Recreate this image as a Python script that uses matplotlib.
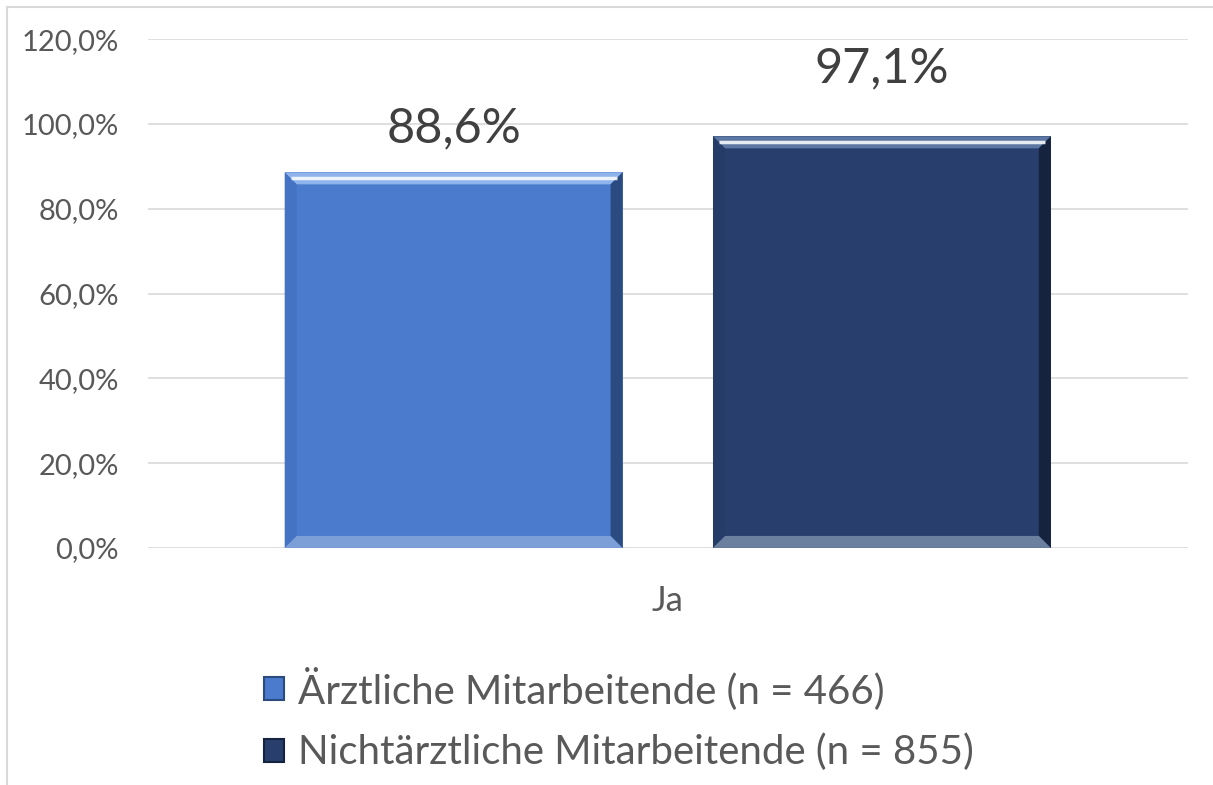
import matplotlib
matplotlib.use('Agg')
import matplotlib.pyplot as plt
from matplotlib.patches import Polygon, Patch
from matplotlib.lines import Line2D

# data
categories = ['Ja']
series_names = ['Ärztliche Mitarbeitende (n = 466)', 'Nichtärztliche Mitarbeitende (n = 855)']
series_values = [88.6, 97.1]
value_labels = ['88,6%', '97,1%']
y_ticks = [0, 20, 40, 60, 80, 100, 120]
y_tick_labels = ['0,0%', '20,0%', '40,0%', '60,0%', '80,0%', '100,0%', '120,0%']

face_colors = ['#4a7bcd', '#283f6e']
top_colors = ['#8fb4ec', '#5d77a3']
left_colors = ['#4373c2', '#253b68']
right_colors = ['#2b4a80', '#16233f']
bottom_colors = ['#7c9fd8', '#6b7f9f']
label_lift = [10.4, 16.1]  # label placement above bar top, as in the original

plt.rcParams['font.family'] = ['Lato', 'DejaVu Sans']

fig = plt.figure(figsize=(12.13, 7.85), dpi=100)
ax = fig.add_axes([0.122, 0.302, 0.857, 0.648])

width = 0.325
offsets = [-0.206, 0.206]

ax.set_xlim(-0.5, 0.5)
ax.set_ylim(0, 120)

# pixel to data conversion for bevel size
ax_w_px = 0.857 * 1213
ax_h_px = 0.648 * 785
bx = 12 / ax_w_px * 1.0
by = 12 / ax_h_px * 120.0

for i, v in enumerate(series_values):
    x0 = offsets[i] - width / 2
    x1 = offsets[i] + width / 2
    ax.bar(offsets[i], v, width=width, color=face_colors[i], zorder=2)
    # bevel facets
    ax.add_patch(Polygon([(x0, v), (x1, v), (x1 - bx, v - by), (x0 + bx, v - by)],
                         closed=True, color=top_colors[i], lw=0, zorder=3))
    ax.add_patch(Polygon([(x0, 0), (x0, v), (x0 + bx, v - by), (x0 + bx, by)],
                         closed=True, color=left_colors[i], lw=0, zorder=3))
    ax.add_patch(Polygon([(x1, 0), (x1, v), (x1 - bx, v - by), (x1 - bx, by)],
                         closed=True, color=right_colors[i], lw=0, zorder=3))
    ax.add_patch(Polygon([(x0, 0), (x1, 0), (x1 - bx, by), (x0 + bx, by)],
                         closed=True, color=bottom_colors[i], lw=0, zorder=3))
    # highlight line near top
    ax.plot([x0 + bx * 0.5, x1 - bx * 0.5], [v - by * 0.45, v - by * 0.45],
            color='white', lw=2.5, alpha=0.85, zorder=4, solid_capstyle='butt')
    ax.text(offsets[i], v + label_lift[i], value_labels[i], ha='center', va='center',
            fontsize=35, color='#404040', zorder=5)

ax.set_yticks(y_ticks)
ax.set_yticklabels(y_tick_labels)
ax.set_xticks([0])
ax.set_xticklabels(categories)
ax.tick_params(axis='y', length=0, pad=21, labelsize=21, labelcolor='#595959')
ax.tick_params(axis='x', length=0, pad=27, labelsize=25, labelcolor='#595959')
ax.grid(axis='y', color='#d9d9d9', lw=1.2, zorder=0)
ax.set_axisbelow(True)
for s in ax.spines.values():
    s.set_visible(False)

handles = [Patch(facecolor=face_colors[i], edgecolor=right_colors[i], lw=1.5) for i in range(2)]
fig.legend(handles, series_names, loc='center', bbox_to_anchor=(0.51, 0.084),
           frameon=False, fontsize=29, labelcolor='#595959', handlelength=0.5,
           handleheight=0.5, handletextpad=0.35, labelspacing=0.6)

# outer chart border (top and left visible)
fig.add_artist(Line2D([6.5 / 1213, 1.0], [1 - 6.5 / 785, 1 - 6.5 / 785],
                      transform=fig.transFigure, color='#d9d9d9', lw=1.5))
fig.add_artist(Line2D([6.5 / 1213, 6.5 / 1213], [0, 1 - 6.5 / 785],
                      transform=fig.transFigure, color='#d9d9d9', lw=1.5))

fig.savefig('out.png', dpi=100)
